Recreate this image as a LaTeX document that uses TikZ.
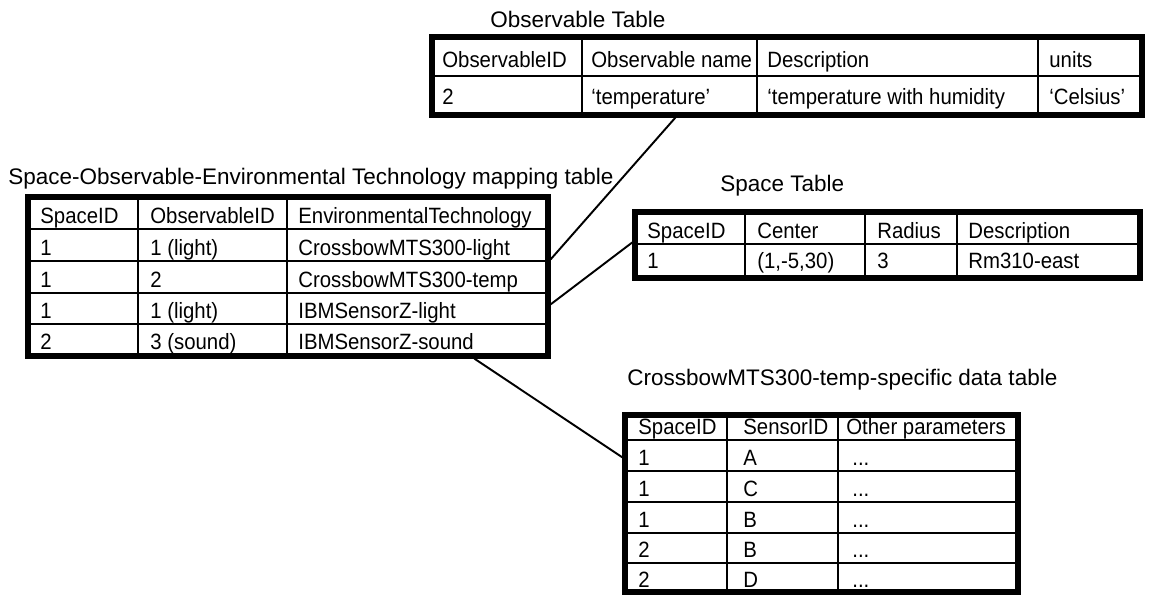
\documentclass[tikz,border=0pt]{standalone}
\usepackage{fontspec}
\setmainfont{Liberation Sans}
\newfontfamily\cellfont[FakeStretch=0.92]{Liberation Sans}
\usetikzlibrary{calc,fit}

\begin{document}
\begin{tikzpicture}[x=0.02cm,y=-0.02cm]
\tikzset{frame/.style={draw,line width=3pt,inner sep=0pt},
  rule/.style={line width=1.3pt},
  wire/.style={line width=1.1pt},
  title/.style={anchor=base west,inner sep=0pt,font=\fontsize{12.8}{15}\selectfont},
  cell/.style={anchor=base west,inner sep=0pt,font=\cellfont\fontsize{12.6}{14}\selectfont}}
\useasboundingbox (0,0) rectangle (1150,595);
% observable table
\node [title] (obstitle) at (490,28) {Observable Table};
\draw [rule] (432,76) -- (1142,76);
\draw [rule] (582,37) -- (582,115) (757,37) -- (757,115) (1038,37) -- (1038,115);
\node [frame,fit={(432,37) (1142,115)}] (obstab) {};
\node [cell] (o11) at (442,67) {ObservableID};
\node [cell] (o12) at (591,67) {Observable name};
\node [cell] (o13) at (767,67) {Description};
\node [cell] (o14) at (1049,67) {units};
\node [cell] (o21) at (442,104) {2};
\node [cell] (o22) at (591,104) {‘temperature’};
\node [cell] (o23) at (767,104) {‘temperature with humidity};
\node [cell] (o24) at (1049,104) {‘Celsius’};
% mapping table
\node [title] (maptitle) at (8,184) {Space-Observable-Environmental Technology mapping table};
\draw [rule] (28,229) -- (548,229) (28,261) -- (548,261) (28,293) -- (548,293) (28,324) -- (548,324);
\draw [rule] (138,197) -- (138,356) (287,197) -- (287,356);
\node [frame,fit={(28,197) (548,356)}] (maptab) {};
\node [cell] (m11) at (40,223) {SpaceID};
\node [cell] (m12) at (150,223) {ObservableID};
\node [cell] (m13) at (298,223) {EnvironmentalTechnology};
\node [cell] (m21) at (40,255) {1};
\node [cell] (m22) at (150,255) {1 (light)};
\node [cell] (m23) at (298,255) {CrossbowMTS300-light};
\node [cell] (m31) at (40,287) {1};
\node [cell] (m32) at (150,287) {2};
\node [cell] (m33) at (298,287) {CrossbowMTS300-temp};
\node [cell] (m41) at (40,318) {1};
\node [cell] (m42) at (150,318) {1 (light)};
\node [cell] (m43) at (298,318) {IBMSensorZ-light};
\node [cell] (m51) at (40,349) {2};
\node [cell] (m52) at (150,349) {3 (sound)};
\node [cell] (m53) at (298,349) {IBMSensorZ-sound};
% space table
\node [title] (sptitle) at (720,191) {Space Table};
\draw [rule] (635,244) -- (1140,244);
\draw [rule] (745,212) -- (745,278) (865,212) -- (865,278) (957,212) -- (957,278);
\node [frame,fit={(635,212) (1140,278)}] (sptab) {};
\node [cell] (s11) at (647,238) {SpaceID};
\node [cell] (s12) at (757,238) {Center};
\node [cell] (s13) at (877,238) {Radius};
\node [cell] (s14) at (968,238) {Description};
\node [cell] (s21) at (647,268) {1};
\node [cell] (s22) at (757,268) {(1,-5,30)};
\node [cell] (s23) at (877,268) {3};
\node [cell] (s24) at (968,268) {Rm310-east};
% sensor data table
\node [title] (cbtitle) at (627,385) {CrossbowMTS300-temp-specific data table};
\draw [rule] (625,440) -- (1018,440) (625,471) -- (1018,471) (625,502) -- (1018,502)
  (625,533) -- (1018,533) (625,563) -- (1018,563);
\draw [rule] (727,415) -- (727,592) (838,415) -- (838,592);
\node [frame,fit={(625,415) (1018,592)}] (cbtab) {};
\node [cell] (c11) at (638,434) {SpaceID};
\node [cell] (c12) at (743,434) {SensorID};
\node [cell] (c13) at (846,434) {Other parameters};
\node [cell] (c21) at (638,465) {1};
\node [cell] (c22) at (743,465) {A};
\node [cell] (c23) at (852,465) {...};
\node [cell] (c31) at (638,496) {1};
\node [cell] (c32) at (743,496) {C};
\node [cell] (c33) at (852,496) {...};
\node [cell] (c41) at (638,527) {1};
\node [cell] (c42) at (743,527) {B};
\node [cell] (c43) at (852,527) {...};
\node [cell] (c51) at (638,557) {2};
\node [cell] (c52) at (743,557) {B};
\node [cell] (c53) at (852,557) {...};
\node [cell] (c61) at (638,587) {2};
\node [cell] (c62) at (743,587) {D};
\node [cell] (c63) at (852,587) {...};
% links
\draw [wire] ($(obstab.south west)+(246,0)$) -- ($(maptab.north east)+(0,65)$);
\draw [wire] ($(sptab.north west)+(0,33)$) -- ($(maptab.north east)+(0,110)$);
\draw [wire] ($(maptab.south west)+(449,0)$) -- ($(cbtab.north west)+(0,45)$);
\end{tikzpicture}
\end{document}
